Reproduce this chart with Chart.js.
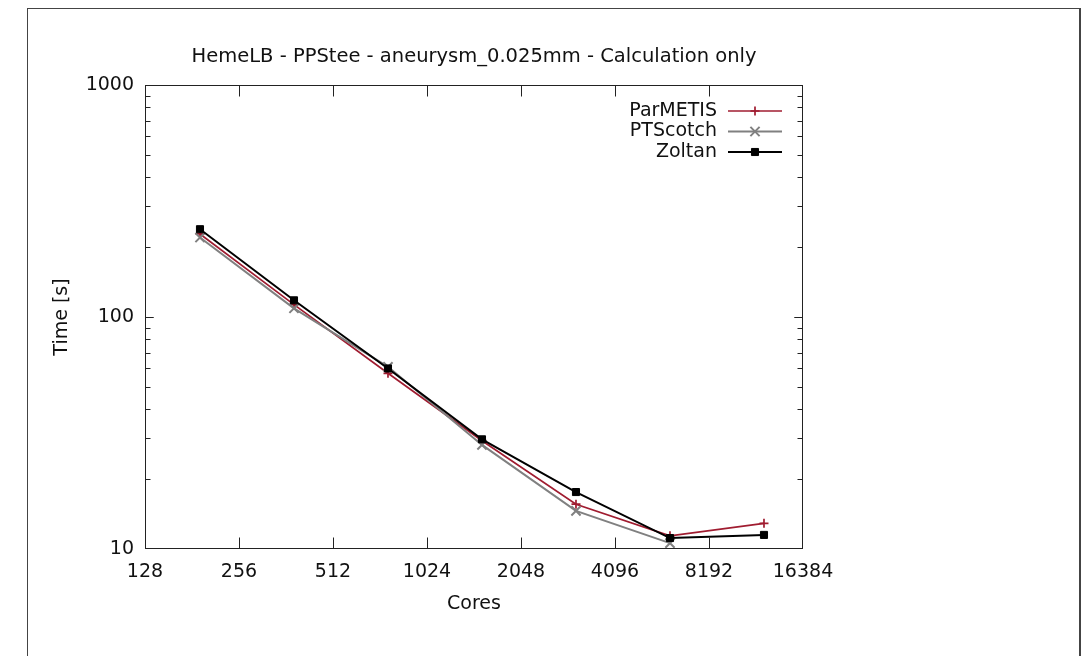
<!DOCTYPE html>
<html>
<head>
<meta charset="utf-8">
<script src="https://cdn.jsdelivr.net/npm/chart.js@4/dist/chart.umd.min.js"></script>
<style>
  html, body { margin: 0; padding: 0; background: #fff; }
  #wrap { position: relative; width: 1087px; height: 656px; overflow: hidden; }
  #frame { position: absolute; left: 27px; top: 8px; width: 1051px; height: 700px; border: 1px solid #444; border-right-width: 2px; }
  canvas { position: absolute; left: 0; top: 0; }
</style>
</head>
<body>
<div id="wrap">
  <div id="frame"></div>
  <canvas id="myChart" width="1087" height="656"></canvas>
</div>
<script>
var cores = [192, 384, 768, 1536, 3072, 6144, 12288];
var parmetis = [228, 113, 57.2, 29.3, 15.6, 11.4, 12.9];
var ptscotch = [220, 109, 61, 28.1, 14.6, 10.6];
var zoltan = [239, 118, 60, 29.7, 17.6, 11.15, 11.5];
var xTicks = [128, 256, 512, 1024, 2048, 4096, 8192, 16384];
var yTicks = [10, 100, 1000];

var FONT = "'DejaVu Sans', sans-serif";

function pts(vals) {
    return vals.map(function (v, i) { return { x: cores[i], y: v }; });
}

function clamp(v, lo, hi) { return Math.min(Math.max(v, lo), hi); }

// gnuplot style frame, inward ticks and legend
var gnuplotLook = {
    id: 'gnuplotLook',
    afterDraw: function (chart) {
        var ctx = chart.ctx, a = chart.chartArea;
        var x = chart.scales.x, y = chart.scales.y;
        var L = Math.round(a.left) + 0.5, R = Math.round(a.right) - 0.5;
        var T = Math.round(a.top) + 0.5, B = Math.round(a.bottom) - 0.5;
        ctx.save();
        ctx.strokeStyle = '#222';
        ctx.lineWidth = 1;
        ctx.beginPath();
        xTicks.forEach(function (v) {
            var px = clamp(Math.round(x.getPixelForValue(v)) + 0.5, L, R);
            ctx.moveTo(px, B); ctx.lineTo(px, B - 11);
            ctx.moveTo(px, T); ctx.lineTo(px, T + 11);
        });
        [10, 100].forEach(function (d) {
            for (var m = 1; m <= 10; m++) {
                var py = clamp(Math.round(y.getPixelForValue(d * m)) + 0.5, T, B);
                var len = (m === 1 || m === 10) ? 8 : 5;
                ctx.moveTo(L, py); ctx.lineTo(L + len, py);
                ctx.moveTo(R, py); ctx.lineTo(R - len, py);
            }
        });
        ctx.stroke();
        ctx.strokeRect(L, T, R - L, B - T);

        // legend
        ctx.font = '19px ' + FONT;
        ctx.textAlign = 'right';
        ctx.textBaseline = 'middle';
        chart.data.datasets.forEach(function (ds, i) {
            var ly = a.top + 26 + i * 20.5;
            ctx.fillStyle = '#111';
            ctx.fillText(ds.label, a.right - 86, ly);
            ctx.strokeStyle = ds.borderColor;
            ctx.lineWidth = ds.borderWidth;
            ctx.beginPath();
            ctx.moveTo(a.right - 75, ly); ctx.lineTo(a.right - 21, ly);
            ctx.stroke();
            ctx.fillStyle = ds.pointBackgroundColor;
            ctx.lineWidth = ds.pointBorderWidth;
            Chart.helpers.drawPoint(ctx, { pointStyle: ds.pointStyle, radius: ds.pointRadius, rotation: 0, borderWidth: ds.pointBorderWidth }, a.right - 48, ly);
        });
        ctx.restore();
    }
};

new Chart("myChart", {
    type: "line",
    data: {
        datasets: [{
            label: 'ParMETIS',
            data: pts(parmetis),
            borderColor: '#a01c30',
            pointBackgroundColor: '#a01c30',
            pointBorderColor: '#a01c30',
            borderWidth: 1.7,
            pointBorderWidth: 1.7,
            pointStyle: 'cross',
            pointRadius: 4.5,
            order: 3,
            fill: false
        }, {
            label: 'PTScotch',
            data: pts(ptscotch),
            borderColor: '#808080',
            pointBackgroundColor: '#808080',
            pointBorderColor: '#808080',
            borderWidth: 2,
            pointBorderWidth: 2,
            pointStyle: 'crossRot',
            pointRadius: 6.5,
            order: 2,
            fill: false
        }, {
            label: 'Zoltan',
            data: pts(zoltan),
            borderColor: '#000',
            pointBackgroundColor: '#000',
            pointBorderColor: '#000',
            borderWidth: 2,
            pointBorderWidth: 1,
            pointStyle: 'rect',
            pointRadius: 5,
            order: 1,
            fill: false
        }]
    },
    options: {
        responsive: false,
        animation: false,
        layout: { padding: { left: 0, right: 284, top: 0, bottom: 0 } },
        plugins: {
            legend: { display: false },
            tooltip: { enabled: false },
            title: {
                display: true,
                fullSize: false,
                text: 'HemeLB - PPStee - aneurysm_0.025mm - Calculation only',
                color: '#111',
                font: { family: FONT, size: 19.5, weight: 'normal' },
                padding: { top: 45, bottom: 16.6 }
            }
        },
        scales: {
            x: {
                type: 'logarithmic',
                min: 128,
                max: 16384,
                afterBuildTicks: function (s) { s.ticks = xTicks.map(function (v) { return { value: v }; }); },
                afterFit: function (s) { s.height = 107; },
                grid: { display: false, drawTicks: false },
                border: { display: false },
                ticks: {
                    autoSkip: false, maxRotation: 0, padding: 12,
                    color: '#111',
                    font: { family: FONT, size: 19 },
                    callback: function (v) { return String(v); }
                },
                title: {
                    display: true, text: 'Cores', color: '#111',
                    font: { family: FONT, size: 19 },
                    padding: { top: 0, bottom: 41 }
                }
            },
            y: {
                type: 'logarithmic',
                min: 10,
                max: 1000,
                afterBuildTicks: function (s) { s.ticks = yTicks.map(function (v) { return { value: v }; }); },
                afterFit: function (s) { s.width = 145; },
                grid: { display: false, drawTicks: false },
                border: { display: false },
                ticks: {
                    autoSkip: false, padding: 11,
                    color: '#111',
                    font: { family: FONT, size: 19 },
                    callback: function (v) { return String(v); }
                },
                title: {
                    display: true, text: 'Time [s]', color: '#111',
                    font: { family: FONT, size: 19 },
                    padding: { top: 50.6, bottom: 0 }
                }
            }
        }
    },
    plugins: [gnuplotLook]
});
</script>
</body>
</html>
